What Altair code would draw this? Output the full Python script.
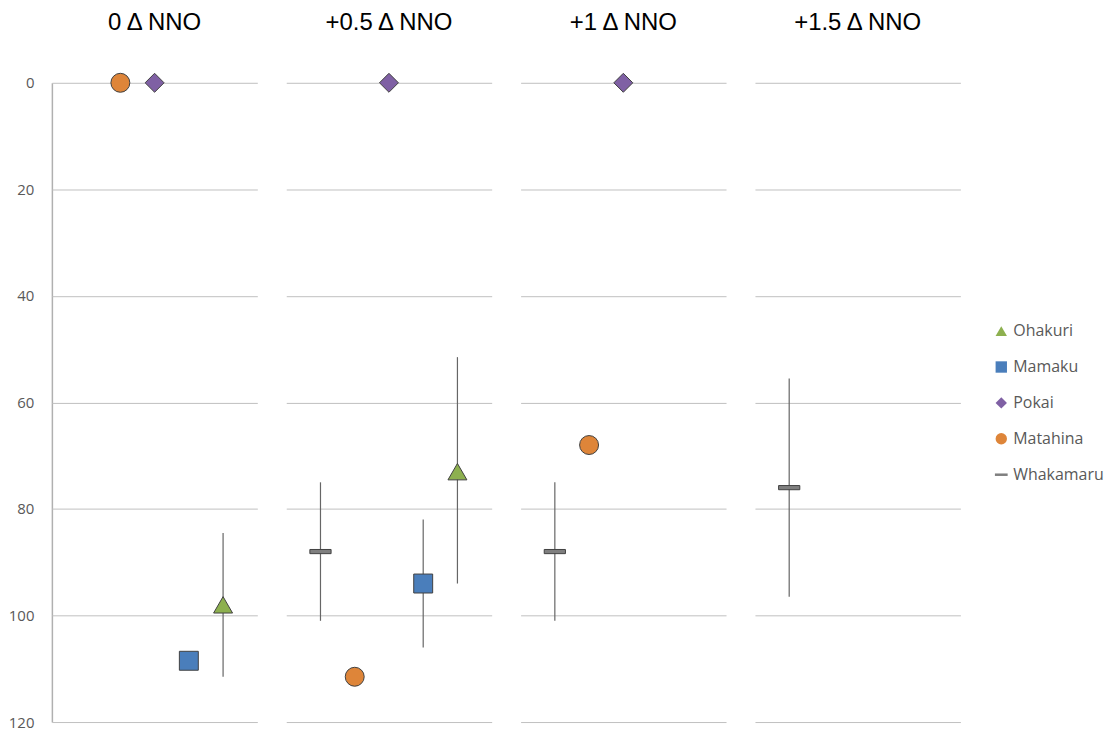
import altair as alt
import pandas as pd

# Panels (facet titles) and series
panels = ["0 Δ NNO", "+0.5 Δ NNO", "+1 Δ NNO", "+1.5 Δ NNO"]
rocks = ["Ohakuri", "Mamaku", "Pokai", "Matahina", "Whakamaru"]
rock_colors = ["#8DB04F", "#4A7EBB", "#7F60A4", "#DE8539", "#7F7F7F"]
dash_path = "M-1.12,-0.22H1.12V0.22H-1.12Z"
rock_shapes = ["triangle-up", "square", "diamond", "circle", dash_path]
slot_order = ["Whakamaru", "Matahina", "Pokai", "Mamaku", "Ohakuri"]

# Point data
pt_panel = ["0 Δ NNO", "0 Δ NNO", "0 Δ NNO", "0 Δ NNO",
            "+0.5 Δ NNO", "+0.5 Δ NNO", "+0.5 Δ NNO", "+0.5 Δ NNO", "+0.5 Δ NNO",
            "+1 Δ NNO", "+1 Δ NNO", "+1 Δ NNO",
            "+1.5 Δ NNO"]
pt_rock = ["Matahina", "Pokai", "Mamaku", "Ohakuri",
           "Whakamaru", "Matahina", "Pokai", "Mamaku", "Ohakuri",
           "Whakamaru", "Matahina", "Pokai",
           "Whakamaru"]
pt_value = [0, 0, 108.5, 98,
            88, 111.5, 0, 94, 73,
            88, 68, 0,
            76]
pt_lo = [None, None, None, 84.5,
         75, None, None, 82, 51.5,
         75, None, None,
         55.5]
pt_hi = [None, None, None, 111.5,
         101, None, None, 106, 94,
         101, None, None,
         96.5]

df = pd.DataFrame({
    "panel": pt_panel,
    "rock": pt_rock,
    "value": pt_value,
    "lo": pt_lo,
    "hi": pt_hi,
})
df["slot"] = [slot_order.index(r) + 1 for r in df["rock"]]

label_font = "Open Sans"
grey_text = "#595959"

x_enc = alt.X("slot:Q", scale=alt.Scale(domain=[0, 6], nice=False, zero=False), axis=None)
y_scale = alt.Scale(domain=[0, 120], reverse=True, nice=False, zero=False)
y_axis = alt.Axis(values=[0, 20, 40, 60, 80, 100, 120], title=None, grid=True,
                  gridColor="#C0C0C0", gridWidth=1, domainColor="#B0B0B0", domainWidth=1.5,
                  ticks=False, labelPadding=18, labelFontSize=15, labelColor=grey_text,
                  labelFont=label_font)

rules = alt.Chart().transform_filter("isValid(datum.lo)").mark_rule(
    color="#666666", strokeWidth=1.2
).encode(
    x=x_enc,
    y=alt.Y("lo:Q", scale=y_scale, axis=y_axis),
    y2="hi:Q",
)

points = alt.Chart().mark_point(
    filled=True, size=361, stroke="#404040", strokeWidth=1, opacity=1
).encode(
    x=x_enc,
    y=alt.Y("value:Q", scale=y_scale, axis=y_axis),
    fill=alt.Fill("rock:N", scale=alt.Scale(domain=rocks, range=rock_colors), title=None),
    shape=alt.Shape("rock:N", scale=alt.Scale(domain=rocks, range=rock_shapes), title=None),
)

chart = alt.layer(rules, points, data=df).properties(
    width=206, height=641
).facet(
    column=alt.Column("panel:N", sort=panels,
                      header=alt.Header(title=None, labelFontSize=24, labelColor="#000000",
                                        labelFont="Liberation Sans", labelPadding=36)),
    spacing=29,
).configure_view(
    stroke=None
).configure_legend(
    orient="none", legendX=944, legendY=241, padding=0,
    labelFontSize=16, labelColor=grey_text, labelFont=label_font,
    symbolSize=130, symbolStrokeColor="#404040", symbolStrokeWidth=1,
    rowPadding=20, labelOffset=4,
).properties(padding={"left": 0, "top": 2, "right": 0, "bottom": 0})

chart.save("out.html", embed_options={"renderer": "svg", "actions": False})
